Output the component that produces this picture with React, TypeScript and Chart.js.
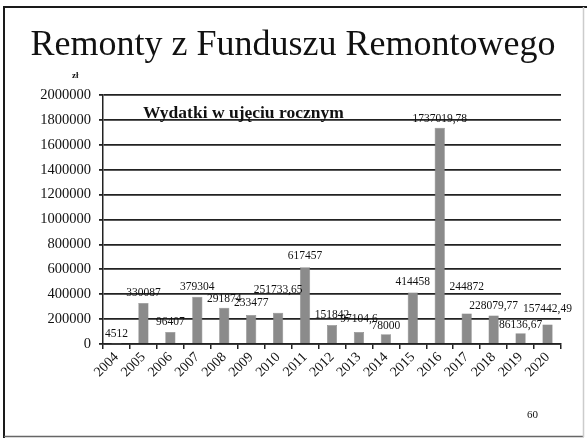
import React, { useEffect, useRef } from "react";
import { Chart, registerables } from "chart.js";

Chart.register(...registerables);

const YEARS = ["2004","2005","2006","2007","2008","2009","2010","2011","2012","2013","2014","2015","2016","2017","2018","2019","2020"];
const EXPENSES = [4512, 330087, 96407, 379304, 291874, 233477, 251733.65, 617457, 151842, 97104.6, 78000, 414458, 1737019.78, 244872, 228079.77, 86136.67, 157442.49];
const LABEL_LIFT = [9, 10, 10, 10, 9, 12, 23, 11, 10, 13, 8, 10, 9, 27, 10, 8, 15];
const Y_MIN = 0;
const Y_MAX = 2000000;
const Y_STEP = 200000;

const TITLE = "Remonty z Funduszu Remontowego";
const SUBTITLE = "Wydatki w ujęciu rocznym";
const UNIT = "zł";
const PAGE = "60";

const SERIF = "'Liberation Serif', 'Times New Roman', serif";

const decorations = {
  id: "decorations",
  beforeDraw(chart: any) {
    const ctx = chart.ctx;
    ctx.save();
    ctx.fillStyle = "#ffffff";
    ctx.fillRect(0, 0, chart.width, chart.height);
    ctx.restore();
  },
  afterDraw(chart: any) {
    const ctx = chart.ctx;
    ctx.save();
    // slide frame
    ctx.strokeStyle = "#1a1a1a";
    ctx.lineWidth = 2;
    ctx.beginPath();
    ctx.moveTo(4, 438);
    ctx.lineTo(4, 7);
    ctx.lineTo(587, 7);
    ctx.stroke();
    ctx.strokeStyle = "#666";
    ctx.lineWidth = 1.5;
    ctx.beginPath();
    ctx.moveTo(4, 436.5);
    ctx.lineTo(584, 436.5);
    ctx.stroke();
    ctx.strokeStyle = "#ccc";
    ctx.beginPath();
    ctx.moveTo(583.5, 7);
    ctx.lineTo(583.5, 437);
    ctx.stroke();

    // title
    ctx.fillStyle = "#111";
    ctx.font = `36px ${SERIF}`;
    ctx.textAlign = "center";
    ctx.textBaseline = "alphabetic";
    ctx.fillText(TITLE, 293, 55);

    // unit
    ctx.font = `bold 9px ${SERIF}`;
    ctx.textAlign = "left";
    ctx.fillText(UNIT, 72, 78);

    // subtitle
    ctx.font = `bold 17.5px ${SERIF}`;
    ctx.fillText(SUBTITLE, 143, 118);

    // page number
    ctx.font = `11px ${SERIF}`;
    ctx.fillText(PAGE, 527, 418);

    // data labels
    const meta = chart.getDatasetMeta(0);
    ctx.font = `11.5px ${SERIF}`;
    ctx.textAlign = "center";
    ctx.textBaseline = "middle";
    ctx.fillStyle = "#111";
    meta.data.forEach((bar: any, i: number) => {
      const txt = String(EXPENSES[i]).replace(".", ",");
      ctx.fillText(txt, bar.x, bar.y - LABEL_LIFT[i]);
    });
    ctx.restore();
  },
};

export default function App() {
  const ref = useRef<HTMLCanvasElement>(null);
  useEffect(() => {
    document.body.style.margin = "0";
    const chart = new Chart(ref.current!, {
      type: "bar",
      data: {
        labels: YEARS,
        datasets: [
          {
            data: EXPENSES,
            backgroundColor: "#8b8b8b",
            borderColor: "#7a7a7a",
            borderWidth: 0.5,
            barPercentage: 0.38,
            categoryPercentage: 1,
          },
        ],
      },
      options: {
        animation: false,
        responsive: false,
        maintainAspectRatio: false,
        layout: { padding: { left: 0, right: 26, top: 95, bottom: 0 } },
        plugins: { legend: { display: false }, tooltip: { enabled: false }, title: { display: false } },
        scales: {
          x: {
            offset: true,
            grid: { display: true, drawOnChartArea: false, drawTicks: true, tickLength: 5, offset: true, color: "#222", lineWidth: 1.5 },
            border: { display: true, color: "#222", width: 1.5 },
            ticks: {
              color: "#111",
              font: { family: SERIF, size: 14 },
              maxRotation: 45,
              minRotation: 45,
              autoSkip: false,
              padding: 0,
            },
            afterFit(scale: any) {
              scale.height = 95;
            },
          },
          y: {
            min: Y_MIN,
            max: Y_MAX,
            ticks: {
              stepSize: Y_STEP,
              color: "#111",
              font: { family: SERIF, size: 14.5 },
              padding: 8,
              callback: (v: any) => String(v),
            },
            grid: { color: "#222", lineWidth: 1.8, tickLength: 4, drawTicks: true },
            border: { display: true, color: "#222", width: 1.5 },
            afterFit(scale: any) {
              scale.width = 103;
            },
          },
        },
      },
      plugins: [decorations],
    });
    return () => chart.destroy();
  }, []);
  return <canvas ref={ref} width={587} height={439} style={{ display: "block" }} />;
}
